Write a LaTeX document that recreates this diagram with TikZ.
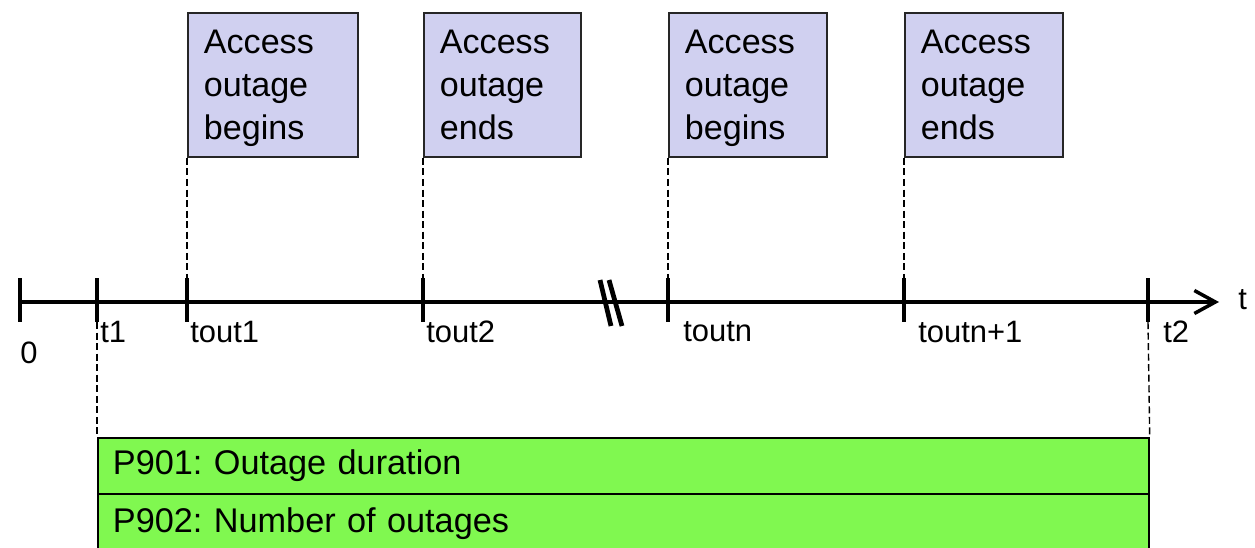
\documentclass[tikz,border=0pt]{standalone}
\usepackage{fontspec}
\setmainfont{Liberation Sans}
\usetikzlibrary{arrows.meta}
\definecolor{boxblue}{RGB}{208,208,240}
\definecolor{boxgreen}{RGB}{128,248,80}
\frenchspacing
\newcommand{\nodesc}[1]{\raisebox{0pt}[\height][0pt]{#1}}
\begin{document}
\begin{tikzpicture}[x=0.02cm,y=-0.02cm,
  evbox/.style={draw=black!85, line width=1.1pt, fill=boxblue, anchor=north west,
    minimum height=2.88cm, inner xsep=0.32cm, inner ysep=0pt, align=left,
    font=\fontsize{19.4}{24.4}\selectfont},
  tickline/.style={line width=2.3pt},
  guide/.style={line width=0.8pt, dash pattern=on 4pt off 2pt},
  lbl/.style={font=\fontsize{17.6}{20}\selectfont, inner sep=0pt},
  rowbox/.style={draw, line width=1.1pt, fill=boxgreen, anchor=north west,
    text width=20.42cm, inner xsep=0.3cm, inner ysep=0pt, align=left,
    font=\fontsize{19.5}{23}\selectfont}]
\useasboundingbox (0,0) rectangle (1255,548);

% axis
\coordinate (axstart) at (20,302);
\coordinate (axend) at (1219,302);
\draw[line width=2.3pt, -{Straight Barb[length=0.42cm, width=0.46cm, line width=2pt]}] (axstart) -- (axend);

% ticks
\foreach \n/\x in {0/20, 1/97, 2/187, 3/423, 4/668, 5/904, 6/1148} {
  \coordinate (k\n top) at (\x,278);
  \coordinate (k\n bot) at (\x,322);
  \draw[tickline] (k\n top) -- (k\n bot);
}

% break mark
\coordinate (brA1) at (600,280); \coordinate (brA2) at (611,326);
\coordinate (brB1) at (609,280); \coordinate (brB2) at (622,326);
\draw[line width=2.7pt] (brA1) -- (brA2);
\draw[line width=2.7pt] (brB1) -- (brB2);

% tick labels
\node[lbl] (l0) at (29,353) {0};
\node[lbl, anchor=west] (l1) at (100,332) {t1};
\node[lbl, anchor=west] (l2) at (190,332) {tout1};
\node[lbl, anchor=west] (l3) at (426,332) {tout2};
\node[lbl, anchor=west] (l4) at (683,332) {toutn};
\node[lbl, anchor=west] (l5) at (918,332) {toutn+1};
\node[lbl, anchor=west] (l6) at (1163,332) {t2};
\node[lbl, anchor=west] (lt) at (1238,300) {t};

% event boxes
\node[evbox, text width=2.76cm] (b1) at (187,12) {Access\\outage\\\nodesc{begins}};
\node[evbox, text width=2.5cm] (b2) at (423,12) {Access\\outage\\ends};
\node[evbox, text width=2.52cm] (b3) at (668,12) {Access\\outage\\\nodesc{begins}};
\node[evbox, text width=2.52cm] (b4) at (904,12) {Access\\outage\\ends};

\draw[guide] (b1.south west) -- (k2top);
\draw[guide] (b2.south west) -- (k3top);
\draw[guide] (b3.south west) -- (k4top);
\draw[guide] (b4.south west) -- (k5top);

% result rows
\node[rowbox, minimum height=1.12cm] (r1) at (97,437) {P901: Outage duration};
\node[rowbox, minimum height=1.2cm] (r2) at (97,493) {P902: Number of outages};

\draw[guide] (k1bot) -- (r1.north west);
\draw[guide] (k6bot) -- (r1.north east);
\end{tikzpicture}
\end{document}
